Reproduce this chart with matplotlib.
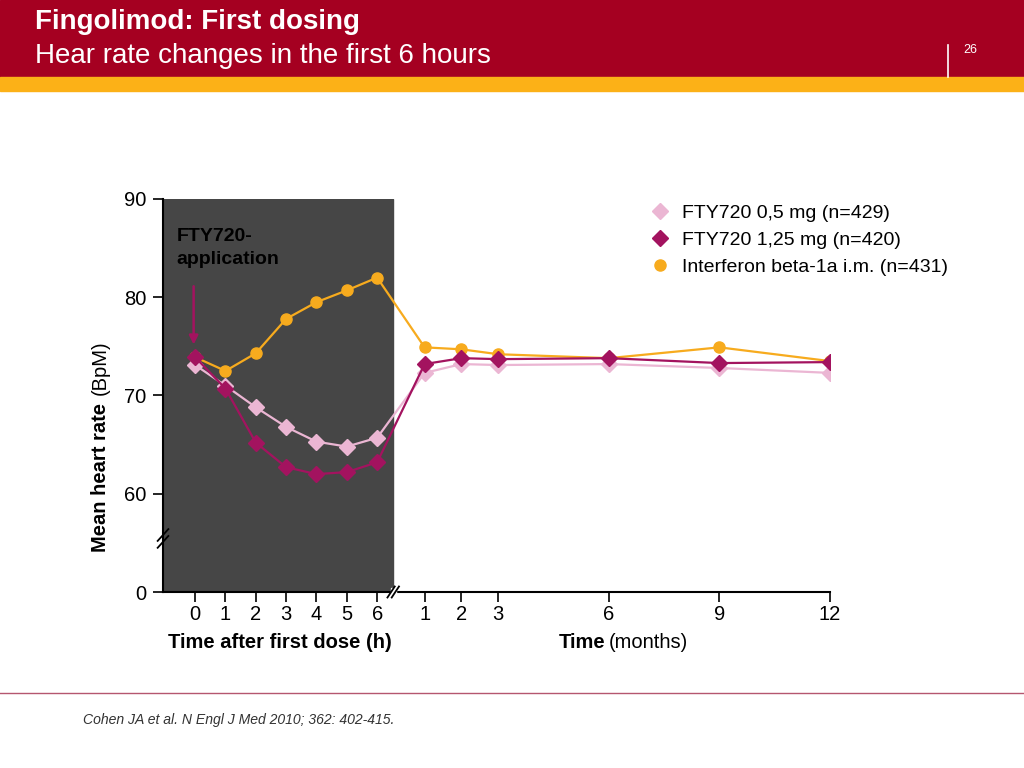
import matplotlib
matplotlib.use('Agg')
import matplotlib.pyplot as plt
import matplotlib.transforms as mtransforms
from matplotlib.lines import Line2D
from matplotlib.patches import Rectangle

plt.rcParams['font.family'] = ['Liberation Sans', 'DejaVu Sans']

# ... data
horas = [0, 1, 2, 3, 4, 5, 6]
meses = [1, 2, 3, 6, 9, 12]

fty05_h = [73.1, 71.0, 68.8, 66.8, 65.3, 64.8, 65.7]
fty05_m = [72.3, 73.2, 73.1, 73.2, 72.8, 72.3]

fty125_h = [73.9, 70.7, 65.2, 62.7, 62.0, 62.2, 63.2]
fty125_m = [73.2, 73.8, 73.7, 73.8, 73.3, 73.4]

ifn_h = [73.9, 72.5, 74.3, 77.8, 79.5, 80.7, 82.0]
ifn_m = [74.9, 74.7, 74.2, 73.8, 74.9, 73.5]

nomes = ['FTY720 0,5 mg (n=429)', 'FTY720 1,25 mg (n=420)',
         'Interferon beta-1a i.m. (n=431)']

rosa = '#ebb6d3'
magenta = '#a3135f'
laranja = '#f7ab1e'
vermelho = '#a50021'


def mes_x(m):
    # months sit on the same axis, after the break
    return 6.35 + 1.215 * m


def main():
    fig = plt.figure(figsize=(10.24, 7.68), dpi=100)

    # ... header bands
    fig.patches.append(Rectangle((0, 1 - 77/768), 1, 77/768, transform=fig.transFigure,
                                 color=vermelho, zorder=0))
    fig.patches.append(Rectangle((0, 1 - 91/768), 1, 14/768, transform=fig.transFigure,
                                 color='#fcb117', zorder=0))
    fig.text(35/1024, 1 - 22/768, 'Fingolimod: First dosing', color='white',
             fontsize=20, weight='bold', va='center')
    fig.text(35/1024, 1 - 56/768, 'Hear rate changes in the first 6 hours', color='white',
             fontsize=20, va='center')
    fig.add_artist(Line2D([948/1024, 948/1024], [1 - 45/768, 1 - 77/768],
                          color='white', lw=1.2, transform=fig.transFigure))
    fig.text(963/1024, 1 - 50/768, '26', color='white', fontsize=9, va='center')

    # ... footer
    fig.add_artist(Line2D([0, 1], [1 - 693/768, 1 - 693/768], color='#b5566f',
                          lw=1, transform=fig.transFigure))
    fig.text(83/1024, 1 - 720/768, 'Cohen JA et al. N Engl J Med 2010; 362: 402-415.',
             fontsize=10.1, style='italic', color='#333333', va='center')

    ax = fig.add_axes([163/1024, 1 - 592/768, 667/1024, 393/768])

    xh = horas
    xm = [mes_x(m) for m in meses]
    xs = xh + xm

    ax.axvspan(-1.06, 6.53, color='#464646', zorder=0)

    ax.plot(xs, ifn_h + ifn_m, color=laranja, lw=1.6, marker='o', ms=8,
            label=nomes[2], zorder=3)
    ax.plot(xs, fty05_h + fty05_m, color=rosa, lw=1.6, marker='D', ms=8.5,
            label=nomes[0], zorder=4)
    ax.plot(xs, fty125_h + fty125_m, color=magenta, lw=1.6, marker='D', ms=8.5,
            label=nomes[1], zorder=5)

    ax.set_xlim(-1.06, mes_x(12))
    ax.set_ylim(50, 90)
    ax.set_xticks(xs)
    ax.set_xticklabels([str(h) for h in horas] + [str(m) for m in meses])
    ax.set_yticks([50, 60, 70, 80, 90])
    ax.set_yticklabels(['0', '60', '70', '80', '90'])
    ax.tick_params(labelsize=14.5, length=7, width=1.2, color='black')
    ax.tick_params(axis='x', pad=2)
    ax.tick_params(axis='y', pad=5)
    for s in ['top', 'right']:
        ax.spines[s].set_visible(False)
    for s in ['left', 'bottom']:
        ax.spines[s].set_linewidth(1.5)

    # ... axis breaks
    tr_y = mtransforms.blended_transform_factory(ax.transAxes, ax.transData)
    for dy in (-0.35, 0.35):
        ax.plot([-0.008, 0.008], [55.45 + dy - 0.6, 55.45 + dy + 0.6], color='black',
                lw=1.3, transform=tr_y, clip_on=False, zorder=7)
    tr_x = mtransforms.blended_transform_factory(ax.transData, ax.transAxes)
    ax.add_patch(Rectangle((6.45, -0.01), 0.18, 0.02, transform=tr_x, color='white',
                           clip_on=False, zorder=6))
    for dx in (-0.07, 0.07):
        ax.plot([6.53 + dx - 0.12, 6.53 + dx + 0.12], [-0.014, 0.014], color='black',
                lw=1.3, transform=tr_x, clip_on=False, zorder=7)

    # ... annotation
    ax.text(-0.62, 85.0, 'FTY720-\napplication', fontsize=14, weight='bold',
            color='black', va='center', ha='left', linespacing=1.45)
    ax.annotate('', xy=(-0.05, 74.9), xytext=(-0.05, 81.4),
                arrowprops=dict(arrowstyle='-|>', color=magenta, lw=1.8,
                                mutation_scale=13))

    # ... axis labels
    fig.text(168/1024, 1 - 643/768, 'Time after first dose (h)', fontsize=14.5,
             weight='bold', va='center', ha='left')
    fig.text(605/1024, 1 - 643/768, 'Time', fontsize=14.5, weight='bold',
             va='center', ha='right')
    fig.text(609/1024, 1 - 643/768, '(months)', fontsize=14.5, va='center', ha='left')
    fig.text(100/1024, 1 - 552/768, 'Mean heart rate', fontsize=14.5, weight='bold',
             rotation=90, va='bottom', ha='center')
    fig.text(100/1024, 1 - 395/768, '(BpM)', fontsize=14.5, rotation=90,
             va='bottom', ha='center')

    handles = [Line2D([], [], color=rosa, marker='D', ms=8.5, ls='none'),
               Line2D([], [], color=magenta, marker='D', ms=8.5, ls='none'),
               Line2D([], [], color=laranja, marker='o', ms=8, ls='none')]
    fig.legend(handles, nomes, loc='upper left', bbox_to_anchor=(652/1024, 1 - 204/768),
               frameon=False, fontsize=14, handlelength=0.8, handletextpad=0.75,
               labelspacing=0.5, borderaxespad=0, borderpad=0)

    fig.savefig('out.png', dpi=100)


if __name__ == "__main__":
    main()
